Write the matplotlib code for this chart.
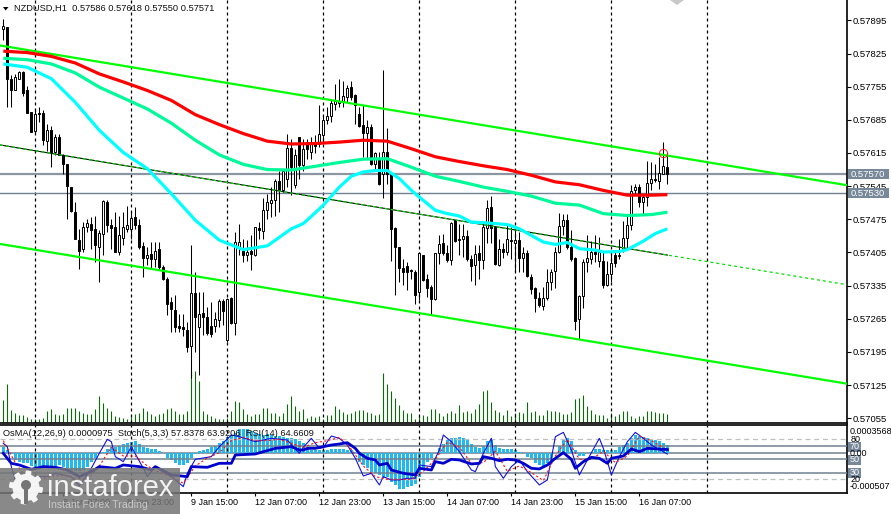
import numpy as np
import matplotlib
matplotlib.use("Agg")
import matplotlib.pyplot as plt
from matplotlib.patches import Rectangle, Circle, Polygon

plt.rcParams['font.family'] = ['Liberation Sans', 'DejaVu Sans']

# --- data, prices are stored as points above 0.56997 ---
BASE = 0.56997

opens = [880,884,775,752,775,789,750,704,664,703,
         703,643,667,621,652,614,595,546,493,434,
         416,462,469,458,420,446,514,467,462,409,
         439,458,458,483,465,422,396,405,395,416,
         377,353,304,287,253,251,245,211,323,251,
         281,271,253,253,266,305,223,312,260,417,
         412,402,412,403,460,453,497,513,518,558,
         539,564,628,550,652,592,641,621,641,636,
         657,687,697,722,723,726,736,757,740,701,
         678,661,673,595,606,574,621,574,460,420,
         375,380,371,367,325,403,351,335,309,406,
         428,407,392,476,437,436,443,395,381,406,
         392,460,504,462,382,415,410,435,428,434,
         396,406,356,332,312,294,311,346,368,408,
         464,477,420,396,267,316,387,394,409,391,
         391,339,362,403,401,415,439,465,539,546,
         515,525,555,563,559,574,589]
closes = [886,775,750,778,789,745,703,662,700,700,
          645,667,621,652,614,595,548,495,437,412,
          462,471,455,423,449,516,467,460,409,444,
          462,465,481,467,420,396,403,395,412,377,
          353,300,288,251,248,246,209,323,272,279,
          271,237,235,268,305,284,310,260,430,430,
          402,409,405,462,455,497,514,518,558,539,
          579,628,588,613,592,627,627,638,633,659,
          687,696,723,727,727,738,755,736,719,676,
          661,673,595,617,553,621,574,458,420,375,
          367,367,369,319,406,349,333,309,406,425,
          406,392,471,432,434,443,395,380,404,392,
          462,502,460,384,415,409,437,433,434,397,
          406,358,330,312,297,311,346,367,409,464,
          477,420,394,263,316,387,396,408,405,409,
          339,363,386,386,403,439,465,537,546,515,
          525,555,564,561,576,590,574]
highs = [901,884,782,785,792,792,759,704,711,715,
         708,680,676,659,659,616,595,546,514,458,
         472,479,483,486,455,518,518,479,493,486,
         493,506,493,504,479,430,419,430,430,430,
         381,356,314,318,279,279,261,423,367,325,
         325,293,304,282,310,310,312,314,451,469,
         437,434,444,462,472,522,532,546,564,581,
         581,659,648,627,652,648,648,652,655,719,
         697,715,729,764,775,771,761,771,743,715,
         719,687,680,620,620,794,671,578,462,420,
         395,388,374,370,410,403,363,339,406,444,
         448,423,472,477,469,469,455,402,423,423,
         472,518,527,462,437,427,465,462,462,451,
         420,413,363,335,325,335,374,374,420,492,
         490,490,455,399,319,395,444,432,444,441,
         409,391,409,412,437,474,490,550,553,553,
         532,601,599,595,609,641,621]
lows = [856,715,715,752,775,738,703,662,661,683,
        634,623,588,613,613,574,479,493,437,374,
        409,451,416,388,346,402,451,416,409,402,
        423,451,437,458,416,356,381,374,377,374,
        349,275,241,241,241,232,198,142,198,149,
        234,234,230,241,251,254,219,258,234,402,
        388,391,370,400,437,437,479,483,486,493,
        536,546,529,545,564,581,606,606,617,631,
        641,680,683,708,715,715,726,729,680,673,
        610,606,592,585,550,522,553,391,318,346,
        339,328,353,300,307,347,314,279,307,384,
        402,388,381,430,402,399,391,347,339,353,
        374,427,427,381,380,396,402,395,367,367,
        367,356,321,282,293,286,307,328,332,406,
        444,416,391,244,226,290,367,384,388,377,
        333,337,346,377,395,409,416,455,529,504,
        490,507,539,557,541,574,553]
volumes = [22,38,12,9,7,7,5,3,3,3,4,11,13,8,7,8,14,14,14,11,
           9,8,8,13,26,19,14,11,6,5,4,3,5,8,9,14,11,8,6,8,
           9,13,14,11,8,8,11,51,51,41,11,8,6,4,3,3,4,11,21,20,
           13,8,6,8,8,14,14,9,9,6,9,18,26,16,11,13,4,6,5,6,
           3,7,7,16,13,10,8,9,11,12,12,10,9,7,8,49,38,31,24,17,
           12,9,9,3,6,7,6,13,13,9,6,9,11,9,17,10,11,9,13,18,
           31,32,20,12,10,7,12,6,9,10,9,20,10,11,7,7,12,11,11,10,
           8,8,10,23,24,27,16,12,8,7,7,4,9,6,8,11,11,6,4,6,
           6,11,11,10,9,9,8]

# moving averages, read every few bars
ma_bars = [0,6,12,18,24,30,36,42,48,54,60,66,72,78,84,90,96,102,108,114,120,126,132,138,144,150,156,162,166]
ma_red = [833,830,822,808,785,768,750,729,699,678,659,643,637,638,641,645,643,627,610,600,591,583,571,557,551,539,529,529,530]
ma_teal = [818,815,806,787,757,734,711,681,645,614,594,583,582,590,598,605,606,588,569,558,546,537,527,512,508,490,486,488,493]
cyan_bars = [0,6,12,18,24,30,36,42,48,54,60,66,72,75,78,80,84,87,90,93,96,99,102,105,108,111,114,117,120,126,129,132,135,138,141,144,148,150,154,156,160,163,166]
ma_cyan = [806,799,775,725,666,619,585,532,476,434,414,422,458,469,492,508,546,569,578,581,581,564,539,518,497,490,485,472,471,467,458,444,430,425,429,416,413,409,410,414,432,448,458]

# channel end points
channel_bars = [-0.825, 210.9]
channel_top = [845, 550]
channel_mid = [635, 340]
channel_low = [426, 131]

level_prices = [0.57570, 0.57530]
price_ticks = [0.57895,0.57825,0.57755,0.57685,0.57615,0.57545,0.57475,0.57405,0.57335,0.57265,0.57195,0.57125,0.57055]

# OsMA in millionths
osma = [94,47,-9,-94,-118,-132,-141,-179,-188,-188,-188,-188,-188,-179,-165,-188,-212,-235,-244,-244,
        -235,-188,-118,-70,0,24,56,94,94,103,132,150,165,169,132,94,70,56,56,33,
        0,-70,-94,-141,-165,-165,-141,-70,-9,33,47,61,94,108,150,179,235,259,282,338,
        343,343,320,282,268,254,268,259,244,244,235,221,212,197,179,141,70,47,47,47,
        47,47,56,56,56,56,47,47,24,-118,-165,-212,-259,-282,-306,-352,-329,-400,-446,-508,
        -507,-479,-460,-432,-329,-212,-118,-70,0,70,132,188,212,221,235,221,188,132,85,70,
        103,179,197,118,80,56,56,56,47,24,0,-56,-70,-141,-165,-179,-141,-94,0,103,
        197,212,179,47,-38,-38,0,24,56,56,47,47,47,47,85,118,150,212,258,249,
        235,221,202,188,174,150,118]

rsi_bars = [0,2,4,7,10,13,16,19,22,24,28,30,34,37,38,42,46,47,51,54,57,58,63,68,72,74,
            75,76,78,80,82,84,86,88,89,91,93,94,96,97,100,103,104,107,108,110,112,114,117,119,120,122,124,126,128,130,132,134,136,138,140,142,143,145,147,149,
            151,152,155,157,159,161,166]
rsi = [59,44,41.5,35,39,38,34,24,31.5,39,36.5,41.5,39,34,39,26.5,24,39,38,44,44,56.5,58,66.5,69,64,
       64,66.5,66.5,69,71.5,73,75,66.5,59,51.5,49,41.5,44,34,29,26.5,36.5,34,46.5,44,50,49,43,44,54,51.5,48,50,49,44,36.5,35.5,41.5,51.5,60,50,36.5,46.5,53,51.5,
       44,51.5,55,65.5,61.5,66.5,64.66]

stoch_bars = [0,1,2,3,5,7,9,11,13,17,19,22,24,26,27,28,30,32,35,36,38,42,45,46,48,52,54,57,59,63,67,71,74,
              75,77,79,80,82,84,86,88,90,92,94,95,97,99,101,103,104,107,109,110,112,114,117,118,120,122,123,125,127,129,131,134,136,138,140,142,144,146,149,
              150,152,154,156,158,160,162,166]
stoch_main = [74,69,39,19,16.5,14,24,24,29,24,10,36.5,59,80,76.5,54,46.5,69,36.5,24,39,24,9,29,50,54,69,86.5,84,76.5,81.5,79,59,
              68,81.5,66.5,68,85,81.5,71.5,51.5,25,29,11.5,24,19,19,21.5,21.5,41.5,39,64,86.5,76.5,61.5,34,31.5,59,81.5,39,21.5,39,49,31.5,11.5,19,84,90.5,64,26.5,49,81.5,
              66.5,26.5,54,76.5,90.5,81.5,71.5,57.84]
signal_bars = list(range(0,165,3)) + [166]
stoch_signal = [78,45,20,18,25,26,22,20,40,68,55,55,40,30,24,14,40,52,60,78,83,78,78,80,74,68,
                75,78,83,65,40,24,20,20,20,32,50,76,68,44,45,62,32,40,30,18,55,80,50,50,62,45,55,85,78,63.92]

date_bars = [-1,15,31,47,63,79,95,111,127,143,159]
date_labels = ['7 Jan 2026','8 Jan 07:00','8 Jan 23:00','9 Jan 15:00','12 Jan 07:00','12 Jan 23:00',
               '13 Jan 15:00','14 Jan 07:00','14 Jan 23:00','15 Jan 15:00','16 Jan 07:00']
session_bars = [8,32,56,80,104,128,152,176]

# --- arrays in price units ---
o = BASE + np.array(opens) / 1e5
c = BASE + np.array(closes) / 1e5
h = BASE + np.array(highs) / 1e5
l = BASE + np.array(lows) / 1e5
bars = np.arange(len(opens))


def price(values):
    return BASE + np.array(values) / 1e5


# --- figure, layout taken in pixels of the 891x514 picture ---
W, H = 891, 514
RIGHT = 847
fig = plt.figure(figsize=(W / 100, H / 100), dpi=100)
ax = fig.add_axes([0, (H - 423) / H, RIGHT / W, 423 / H])
osc = fig.add_axes([0, (H - 493) / H, RIGHT / W, 68.5 / H])
over = fig.add_axes([0, 0, 1, 1], zorder=10)
over.set_xlim(0, W)
over.set_ylim(H, 0)
over.axis('off')

xlim = (-0.825, 210.9)
ax.set_xlim(*xlim)
ax.set_ylim(0.57045, 0.57938)
osc.set_xlim(*xlim)

ax.spines['top'].set_visible(False)
for a in [ax, osc]:
    a.spines['right'].set_linewidth(1.2)
    a.spines['bottom'].set_linewidth(1.2)
    a.spines['left'].set_visible(False)
osc.spines['top'].set_linewidth(1.2)

session_dash = (0, (2.4, 2.4))
for b in session_bars:
    ax.axvline(b, color='black', lw=0.9, ls=session_dash, zorder=1)
    osc.axvline(b, color='black', lw=0.9, ls=session_dash, zorder=5)

# volumes on their own scale at the foot of the main window
vol_ax = ax.twinx()
vol_ax.set_ylim(0, 423)
vol_ax.axis('off')
vol_ax.vlines(bars, 1, 1 + np.array(volumes), color='#0b6b0b', lw=0.8)
ax.set_zorder(vol_ax.get_zorder() + 1)
ax.patch.set_visible(False)

# level lines
ax.axhline(level_prices[0], color='#8c96a3', lw=1.6, zorder=2)
ax.axhline(level_prices[1], color='#708090', lw=1.0, zorder=2)

# candles
ax.vlines(bars, l, h, color='black', lw=0.75, zorder=3)
for i in bars:
    up = c[i] >= o[i]
    ax.bar(i, abs(c[i] - o[i]), bottom=min(o[i], c[i]), width=0.55,
           color='white' if up else 'black', edgecolor='black', lw=0.7, zorder=4)

# channel
ax.plot(channel_bars, price(channel_top), color='#00ff00', lw=1.6, zorder=6)
ax.plot(channel_bars, price(channel_low), color='#00ff00', lw=1.6, zorder=6)
mid = price(channel_mid)
slope = (mid[1] - mid[0]) / (channel_bars[1] - channel_bars[0])
ax.plot([channel_bars[0], 166], [mid[0], mid[0] + slope * (166 - channel_bars[0])], color='black', lw=0.8, zorder=5)
ax.plot(channel_bars, mid, color='#00e000', lw=0.9, ls=session_dash, zorder=6)

# moving averages
ax.plot(ma_bars, price(ma_red), color='#ff0000', lw=2.3, zorder=7, solid_capstyle='butt')
ax.plot(ma_bars, price(ma_teal), color='#00fa9a', lw=2.3, zorder=7, solid_capstyle='butt')
ax.plot(cyan_bars, price(ma_cyan), color='#00ffff', lw=2.3, zorder=8, solid_capstyle='butt')

# alert marker on the last swing high
ax.plot([165], [BASE + 617 / 1e5], 'o', ms=6, mfc='none', mec='#ff2020', mew=0.7, zorder=9)

# price scale
ax.yaxis.tick_right()
ax.set_yticks(price_ticks)
ax.set_yticklabels(['%.5f' % p for p in price_ticks], fontsize=6.8)
ax.tick_params(axis='y', length=3, width=0.8, pad=1)
ax.set_xticks([])

# price tags for the two levels
for p in level_prices:
    y = ax.transData.transform((0, p))[1]
    y = H - y
    over.add_patch(Rectangle((848, y - 5), 41, 10, fc='#778899', ec='none'))
    over.text(851, y, '%.5f' % p, fontsize=6.8, color='white', va='center', ha='left')

# header
over.add_patch(Polygon([[3, 7], [8.5, 7], [5.7, 10.5]], fc='black', ec='none'))
over.add_patch(Polygon([[670, 0], [684, 0], [677, 5]], fc='#c8c8c8', ec='none'))
over.text(14, 8, 'NZDUSD,H1  0.57586 0.57618 0.57550 0.57571', fontsize=6.7, va='center', ha='left', color='#101010')

# --- oscillator window ---
osc.set_ylim(-559, 406)
osc.bar(bars, osma, width=0.72, color='#22b8f0', zorder=2)
osc.axhline(0, color='#708090', lw=1.1, zorder=1)
osc.set_xticks(date_bars)
osc.set_xticklabels(date_labels, fontsize=6.5, ha='left')
osc.tick_params(axis='x', length=2.5, width=0.8, pad=1)
osc.set_yticks([])

rs = osc.twinx()
rs.set_xlim(*xlim)
rs.set_ylim(-0.6, 102.3)
rs.axis('off')
for v in [70, 50, 30]:
    rs.axhline(v, color='#708090', lw=1.1, zorder=1)
for v in [80, 20]:
    rs.axhline(v, color='#c0c0c0', lw=0.9, ls=(0, (4, 3)), zorder=1)
rs.plot(stoch_bars, stoch_main, color='#1010e0', lw=0.8, zorder=3)
rs.plot(signal_bars, stoch_signal, color='#ff1010', lw=0.8, ls=(0, (2, 2)), zorder=3)
rs.plot(rsi_bars, rsi, color='#0000cd', lw=2.0, zorder=4)

over.text(3, 433.5, 'OsMA(12,26,9) 0.0000975  Stoch(5,3,3) 57.8378 63.9206  RSI(14) 64.6609',
          fontsize=6.7, va='center', ha='left', color='#101010')

# right scale of the oscillator window
over.text(850, 432, '0.0003568', fontsize=6.5, va='center', ha='left')
over.text(850, 453.5, '0.00', fontsize=6.5, va='center', ha='left')
over.text(850, 486.5, '-0.000507', fontsize=6.5, va='center', ha='left')
over.text(851, 439.5, '80', fontsize=6.5, va='center', ha='left')
over.text(851, 480, '20', fontsize=6.5, va='center', ha='left')
for v, y in [(70, 446.5), (50, 459.5), (30, 472.5)]:
    over.add_patch(Rectangle((848, y - 5), 13, 10, fc='#778899', ec='none'))
    over.text(849.5, y, str(v), fontsize=6.5, va='center', ha='left', color='white')

# logo in the lower left corner
logo_grey = '#757575'
over.add_patch(Rectangle((0, 468), 180, 46, fc=logo_grey, ec='none', alpha=0.85))
ang = np.linspace(0, 2 * np.pi, 97)[:-1]
rad = np.where((np.arange(96) % 12) < 6, 17, 13.5)
over.add_patch(Polygon(np.c_[26 + rad * np.cos(ang), 487.5 + rad * np.sin(ang)], fc='white', ec='none', alpha=0.92))
over.add_patch(Circle((26, 485), 5, fc=logo_grey, ec='none'))
over.add_patch(Rectangle((24, 485), 4, 19, fc=logo_grey, ec='none'))
over.text(47, 487.5, 'instaforex', fontsize=21, va='center', ha='left', color='white', alpha=0.9)
over.text(48, 505, 'Instant Forex Trading', fontsize=7.6, va='center', ha='left', color='#c8c8c8')

fig.savefig('out.png', dpi=100)
